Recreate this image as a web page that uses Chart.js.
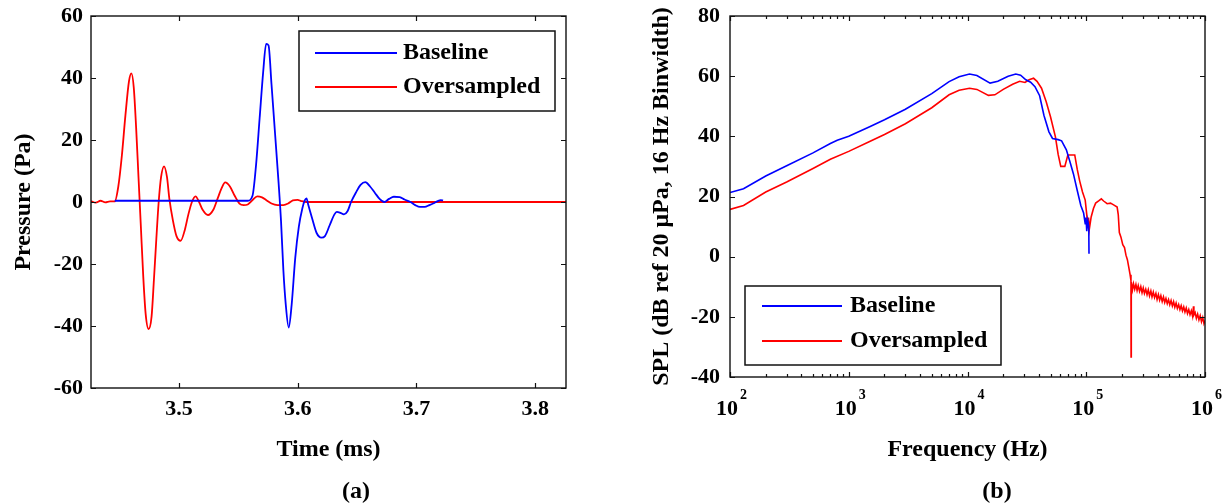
<!DOCTYPE html>
<html>
<head>
<meta charset="utf-8">
<script src="https://cdn.jsdelivr.net/npm/chart.js@4.4.0/dist/chart.umd.min.js"></script>
<style>
  body { margin: 0; background: #fff; width: 1223px; height: 504px; position: relative; overflow: hidden; }
  canvas { position: absolute; top: 0; }
  #c1 { left: 0; }
  #c2 { left: 620px; }
  .cap { position: absolute; top: 490px; transform: translate(-50%, -50%); font: bold 24px 'Liberation Serif', 'Times New Roman', serif; }
</style>
</head>
<body>
<canvas id="c1" width="620" height="504"></canvas>
<canvas id="c2" width="603" height="504"></canvas>
<div class="cap" style="left:356px">(a)</div>
<div class="cap" style="left:997px">(b)</div>
<script>
// (a) pressure signal, ms / Pa
var timeBaseline = [3.446, 3.558, 3.562, 3.565, 3.568, 3.571, 3.5735, 3.5755, 3.578, 3.581, 3.584, 3.586, 3.588, 3.590, 3.5925,
  3.595, 3.598, 3.601, 3.604, 3.606, 3.6075, 3.609, 3.612, 3.616, 3.620, 3.623, 3.627, 3.631, 3.633, 3.636, 3.639, 3.642,
  3.645, 3.649, 3.653, 3.657, 3.661, 3.665, 3.669, 3.673, 3.677, 3.681, 3.686, 3.690, 3.695, 3.699, 3.703, 3.707, 3.711,
  3.714, 3.718, 3.7205, 3.7225];
var presBaseline = [0.4, 0.4, 2, 12, 27, 42, 51, 50.5, 38, 22, 6, -6, -22, -33, -40.5,
  -33, -18, -8, -2, 0.5, 1.2, -1, -5, -10, -11.5, -11, -7.5, -4, -3.2, -3.5, -4, -3,
  0, 3, 5.5, 6.4, 5, 3, 1, 0, 1, 1.7, 1.6, 0.8, 0, -1, -1.6, -1.6, -1,
  -0.5, 0.3, 0.6, 0.5];

var timeOver = [3.426, 3.430, 3.434, 3.438, 3.442, 3.446, 3.449, 3.452, 3.455, 3.458, 3.460, 3.462, 3.464, 3.466, 3.468,
  3.470, 3.472, 3.4745, 3.477, 3.479, 3.481, 3.483, 3.485, 3.4875, 3.490, 3.492, 3.495, 3.498, 3.5015, 3.505, 3.508,
  3.511, 3.514, 3.517, 3.520, 3.5245, 3.529, 3.533, 3.536, 3.539, 3.543, 3.547, 3.551, 3.5545, 3.558, 3.562, 3.566,
  3.570, 3.574, 3.578, 3.583, 3.588, 3.592, 3.596, 3.600, 3.603, 3.607, 3.826];
var presOver = [0.3, -0.2, 0.4, -0.1, 0.2, 0.2, 5, 15, 28, 39, 41.5, 37, 24, 8, -8,
  -24, -36, -41, -37, -25, -12, 0, 8, 11.5, 8, 1, -6, -11, -12.5, -9, -4,
  0, 1.8, 0, -2.5, -4.2, -2.5, 1.5, 4.5, 6.3, 5, 2, -0.5, -1, -0.8, 0.6, 1.8,
  1.5, 0.5, -0.5, -1, -1, -0.5, 0.5, 0.7, 0.3, 0, 0];
var timeTicks = [3.5, 3.6, 3.7, 3.8];

// (b) spectrum, Hz / dB
var freqBaseline = [100, 130, 200, 300, 500, 700, 800, 1000, 1500, 2000, 3000, 5000, 7000, 8500, 10400, 12000, 15500,
  18000, 22000, 25500, 28000, 31000, 34000, 37000, 40500, 44000, 48500, 52000, 58000, 62000, 68000, 73000, 78000,
  84000, 90000, 95000, 98000, 99500, 101000, 103000, 105000, 105500];
var splBaseline = [21.3, 22.6, 26.8, 30.2, 34.5, 37.6, 38.7, 40.0, 43.2, 45.5, 49.0, 54.2, 58.2, 59.8, 60.7, 60.2, 57.7,
  58.3, 60.0, 60.7, 60.3, 58.8, 58.0, 56.5, 53.5, 47, 41.5, 39.3, 38.9, 38.5, 35.5, 31.5, 27.5,
  22, 17, 14.5, 11, 13, 8.5, 12, 10, 1];

var freqOver = [100, 130, 200, 300, 500, 700, 1000, 1500, 2000, 3000, 5000, 7000, 8500, 10400, 12000, 15000, 17000,
  20000, 24000, 27500, 30500, 33000, 36000, 38500, 42000, 46000, 50000, 55000, 58000, 61000, 66000, 70000, 80000,
  84000, 88000, 93000, 98000, 101000, 103000, 104500, 106000, 110000, 115000, 120000, 128000, 134000, 140000,
  150000, 160000, 170000, 182000, 186000, 190000, 196000, 203000, 210000, 216000, 222000, 228000, 234000, 238000,
  238500, 239000, 240000, 245000, 250000, 256000, 262000, 268000, 274000, 281000, 288000, 295000, 302000, 309000,
  317000, 325000, 333000, 341000, 350000, 358000, 367000, 376000, 386000, 395000, 405000, 415000, 425000, 436000,
  447000, 458000, 469000, 481000, 493000, 505000, 518000, 531000, 544000, 557000, 571000, 585000, 600000, 615000,
  630000, 646000, 662000, 678000, 695000, 712000, 730000, 748000, 767000, 786000, 800000, 806000, 826000, 846000,
  867000, 889000, 911000, 934000, 957000, 980000, 1000000];
var splOver = [15.7, 17, 21.5, 24.8, 29.3, 32.4, 35, 38.3, 40.6, 44.2, 49.5, 53.8, 55.3, 56, 55.6, 53.6, 53.8,
  55.6, 57.3, 58.3, 57.9, 58.8, 59.3, 58.3, 56, 51.5, 46.5, 39.8, 34, 30, 30, 33.8, 33.8,
  29, 25.2, 21.5, 18.8, 14, 9.5, 13, 9, 13.2, 16, 17.8, 18.6, 19.2, 18.5,
  17.6, 17.8, 17.2, 16.5, 14, 8, 6.5, 4, 3, 0.5, -1, -3.5, -6, -8,
  -33.3, -9, -8.5, -11, -9, -10.8, -9.2, -11.2, -9.6, -11.5, -10, -12, -10.4, -12.2,
  -10.8, -12.6, -11, -13, -11.4, -13.4, -11.8, -13.6, -12.2, -14.2, -12.6, -14.4, -13, -14.9,
  -13.4, -15.2, -13.9, -15.6, -14.3, -16, -14.6, -16.4, -15, -16.8, -15.4, -17.2, -15.9, -17.6,
  -16.3, -18, -16.7, -18.4, -17.1, -18.9, -17.6, -19.3, -18, -19.8, -16.5, -19.4, -18.6, -20.5,
  -19.1, -21, -19.6, -21.6, -20.2, -22.2, -21.2];
var decadeTicks = [1e2, 1e3, 1e4, 1e5, 1e6];

var serif = "'Liberation Serif', 'Times New Roman', serif";
Chart.defaults.font.family = serif;
Chart.defaults.font.weight = 'bold';
Chart.defaults.color = '#000';

function toPoints(xs, ys) {
  return xs.map((x, i) => ({ x: x, y: ys[i] }));
}

// y axes: fixed width, and no extra room above/below for the end labels
function fixYAxis(width) {
  return s => {
    s.width = width;
    s.paddingTop = 0;
    s.paddingBottom = 0;
  };
}

// frame round the plot area, inward ticks on all four sides, boxed legend
var boxPlugin = {
  id: 'box',
  afterDatasetsDraw(chart, args, opts) {
    var ctx = chart.ctx, a = chart.chartArea, sx = chart.scales.x, sy = chart.scales.y;
    ctx.save();
    ctx.strokeStyle = '#111';
    ctx.lineWidth = 1.4;
    ctx.strokeRect(a.left, a.top, a.right - a.left, a.bottom - a.top);
    ctx.beginPath();
    var mark = (list, len) => list.forEach(v => {
      var px = Math.round(sx.getPixelForValue(v)) + 0.5;
      ctx.moveTo(px, a.bottom); ctx.lineTo(px, a.bottom - len);
      ctx.moveTo(px, a.top); ctx.lineTo(px, a.top + len);
    });
    mark(sx.ticks.map(t => t.value), 5);
    if (opts.minor) mark(opts.minor, 3);
    sy.ticks.forEach(t => {
      var py = Math.round(sy.getPixelForValue(t.value)) + 0.5;
      ctx.moveTo(a.left, py); ctx.lineTo(a.left + 5, py);
      ctx.moveTo(a.right, py); ctx.lineTo(a.right - 5, py);
    });
    ctx.lineWidth = 1.2;
    ctx.stroke();

    // 10^n labels under the log axis
    if (opts.powers) {
      ctx.fillStyle = '#000';
      ctx.textBaseline = 'middle';
      sx.ticks.forEach(t => {
        var px = sx.getPixelForValue(t.value);
        ctx.font = 'bold 22px ' + serif;
        var w = ctx.measureText('10').width;
        ctx.textAlign = 'left';
        ctx.fillText('10', px - w / 2 - 3, opts.powers.y);
        ctx.font = 'bold 14px ' + serif;
        ctx.fillText(String(Math.round(Math.log10(t.value))), px + w / 2 - 1, opts.powers.y - 14);
      });
    }

    var lg = opts.legend;
    ctx.fillStyle = '#fff';
    ctx.fillRect(lg.x, lg.y, lg.w, lg.h);
    ctx.strokeStyle = '#111';
    ctx.lineWidth = 1.5;
    ctx.strokeRect(lg.x, lg.y, lg.w, lg.h);
    ctx.font = 'bold 24px ' + serif;
    ctx.textAlign = 'left';
    ctx.textBaseline = 'middle';
    chart.data.datasets.forEach((ds, i) => {
      var y = lg.rows[i];
      ctx.strokeStyle = ds.borderColor;
      ctx.lineWidth = 2;
      ctx.beginPath();
      ctx.moveTo(lg.x1, y);
      ctx.lineTo(lg.x2, y);
      ctx.stroke();
      ctx.fillStyle = '#000';
      ctx.fillText(ds.label, lg.tx, y);
    });
    ctx.restore();
  }
};

var minorTicks = [];
decadeTicks.slice(0, -1).forEach(d => {
  for (var k = 2; k <= 9; k++) minorTicks.push(d * k);
});

new Chart(document.getElementById('c1'), {
  type: 'line',
  data: {
    datasets: [
      { label: 'Baseline', data: toPoints(timeBaseline, presBaseline), borderColor: '#0000ff', borderWidth: 1.8,
        pointRadius: 0, cubicInterpolationMode: 'monotone' },
      { label: 'Oversampled', data: toPoints(timeOver, presOver), borderColor: '#ff0000', borderWidth: 1.8,
        pointRadius: 0, cubicInterpolationMode: 'monotone' }
    ]
  },
  options: {
    responsive: false,
    animation: false,
    events: [],
    layout: { padding: { left: 0, top: 16, right: 54, bottom: 0 } },
    plugins: {
      legend: { display: false },
      tooltip: { enabled: false },
      box: { legend: { x: 299, y: 31, w: 256, h: 80, x1: 315, x2: 397, tx: 403, rows: [53, 87] } }
    },
    scales: {
      x: {
        type: 'linear', min: 3.426, max: 3.826,
        grid: { display: false, drawTicks: false }, border: { display: false },
        afterBuildTicks: s => { s.ticks = timeTicks.map(v => ({ value: v })); },
        afterFit: s => { s.height = 116; },
        ticks: { padding: 8, font: { size: 22 }, maxRotation: 0, autoSkip: false, callback: v => v.toFixed(1) },
        title: { display: true, text: 'Time (ms)', font: { size: 24 }, padding: { top: 0, bottom: 40 } }
      },
      y: {
        min: -60, max: 60,
        grid: { display: false, drawTicks: false }, border: { display: false },
        afterFit: fixYAxis(91),
        ticks: { stepSize: 20, padding: 8, font: { size: 22 } },
        title: { display: true, text: 'Pressure (Pa)', font: { size: 24 }, padding: { top: 9, bottom: 0 } }
      }
    }
  },
  plugins: [boxPlugin]
});

new Chart(document.getElementById('c2'), {
  type: 'line',
  data: {
    datasets: [
      { label: 'Baseline', data: toPoints(freqBaseline, splBaseline), borderColor: '#0000ff', borderWidth: 1.6,
        pointRadius: 0, tension: 0 },
      { label: 'Oversampled', data: toPoints(freqOver, splOver), borderColor: '#ff0000', borderWidth: 1.6,
        pointRadius: 0, tension: 0 }
    ]
  },
  options: {
    responsive: false,
    animation: false,
    events: [],
    layout: { padding: { left: 23.6, top: 16, right: 18, bottom: 0 } },
    plugins: {
      legend: { display: false },
      tooltip: { enabled: false },
      box: {
        minor: minorTicks,
        powers: { y: 409 },
        legend: { x: 125, y: 286, w: 256, h: 79, x1: 142, x2: 222, tx: 230, rows: [306, 341] }
      }
    },
    scales: {
      x: {
        type: 'logarithmic', min: 100, max: 1e6,
        grid: { display: false, drawTicks: false }, border: { display: false },
        afterBuildTicks: s => { s.ticks = decadeTicks.map(v => ({ value: v })); },
        afterFit: s => { s.height = 127; },
        ticks: { display: false },
        title: { display: true, text: 'Frequency (Hz)', font: { size: 24 }, padding: { top: 0, bottom: 40 } }
      },
      y: {
        min: -40, max: 80,
        grid: { display: false, drawTicks: false }, border: { display: false },
        afterFit: fixYAxis(86.4),
        ticks: { stepSize: 20, padding: 10, font: { size: 22 } },
        title: { display: true, text: 'SPL (dB ref 20 μPa, 16 Hz Binwidth)', font: { size: 24 }, padding: { top: 4, bottom: 0 } }
      }
    }
  },
  plugins: [boxPlugin]
});
</script>
</body>
</html>
